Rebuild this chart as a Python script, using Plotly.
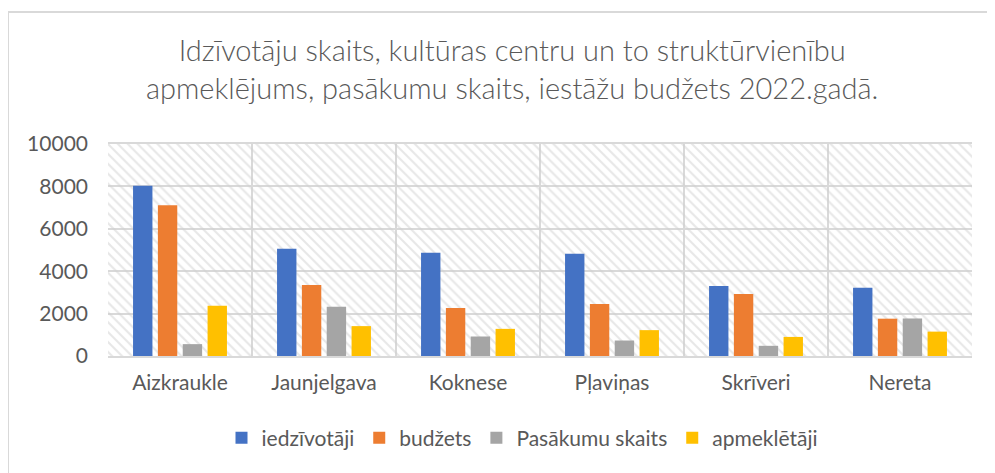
import plotly.graph_objects as go

# Data
categories = ["Aizkraukle", "Jaunjelgava", "Koknese", "Pļaviņas", "Skrīveri", "Nereta"]
iedzivotaji = [8030, 5060, 4870, 4820, 3300, 3220]
budzets = [7110, 3350, 2260, 2450, 2920, 1760]
pasakumi = [560, 2320, 920, 730, 480, 1770]
apmekletaji = [2370, 1410, 1280, 1220, 900, 1150]

y_ticks = [0, 2000, 4000, 6000, 8000, 10000]
y_ticktext = ["0", "2000", "4000", "6000", "8000", "10000"]
Y_MAX = 10000

title_text = ("Idzīvotāju skaits, kultūras centru un to struktūrvienību<br>"
              "apmeklējums, pasākumu skaits, iestāžu budžets 2022.gadā.")

# Colours (Office palette)
C_BLUE = "#4472C4"
C_ORANGE = "#ED7D31"
C_GREY = "#A5A5A5"
C_YELLOW = "#FFC000"
C_GRID = "#D9D9D9"
C_HATCH = "#D0D0D0"
C_TEXT = "#595959"

FONT = "Lato, Open Sans, sans-serif"

# the page body has an 8px margin, so the figure is drawn 8px in from the corner
OFF = 8
W, H = 995 - 2 * OFF, 473 - OFF
L, R, T, B = 108 - OFF, 15, 144 - OFF, 117
PW, PH = W - L - R, H - T - B


def px_x(x):
    # screen pixel -> paper coordinate
    return (x - OFF - L) / PW


def px_y(y):
    return (H - B - (y - OFF)) / PH


fig = go.Figure()

# hatched plot background (one tile per category, on the base axis)
fig.add_trace(go.Bar(
    x=categories,
    y=[Y_MAX] * len(categories),
    width=1,
    marker=dict(
        color="rgba(0,0,0,0)",
        line=dict(width=0),
        pattern=dict(shape="\\", fgcolor=C_HATCH, size=7, solidity=0.3),
    ),
    showlegend=False,
    hoverinfo="skip",
))

series = [
    ("iedzīvotāji", iedzivotaji, C_BLUE),
    ("budžets", budzets, C_ORANGE),
    ("Pasākumu skaits", pasakumi, C_GREY),
    ("apmeklētāji", apmekletaji, C_YELLOW),
]
for name, vals, col in series:
    fig.add_trace(go.Bar(
        x=categories,
        y=vals,
        name=name,
        marker=dict(color=col, line=dict(width=0)),
        xaxis="x2",
    ))

fig.update_layout(
    width=W,
    height=H,
    margin=dict(l=L, r=R, t=T, b=B),
    paper_bgcolor="white",
    plot_bgcolor="white",
    barmode="group",
    bargap=0.31,
    bargroupgap=0.22,
    font=dict(family=FONT, color=C_TEXT),
    xaxis=dict(
        type="category",
        categoryorder="array",
        categoryarray=categories,
        range=[-0.5, len(categories) - 0.5],
        tickson="boundaries",
        showgrid=True,
        gridcolor=C_GRID,
        gridwidth=2,
        showline=True,
        mirror=True,
        linecolor=C_GRID,
        linewidth=2,
        ticks="",
        showticklabels=False,
        fixedrange=True,
    ),
    xaxis2=dict(
        type="category",
        categoryorder="array",
        categoryarray=categories,
        range=[-0.5, len(categories) - 0.5],
        overlaying="x",
        showgrid=False,
        showline=False,
        ticks="",
        tickfont=dict(size=21, color=C_TEXT, family=FONT),
        side="bottom",
        anchor="y",
        ticklabelstandoff=12,
    ),
    yaxis=dict(
        range=[0, Y_MAX],
        tickvals=y_ticks,
        ticktext=y_ticktext,
        showgrid=True,
        gridcolor=C_GRID,
        gridwidth=2,
        zeroline=False,
        ticks="",
        tickfont=dict(size=21, color=C_TEXT, family=FONT),
        ticklabelstandoff=19,
    ),
    legend=dict(
        orientation="h",
        x=px_x(522),
        y=px_y(438),
        xanchor="center",
        yanchor="middle",
        font=dict(size=21, color=C_TEXT, family=FONT),
        itemwidth=30,
        traceorder="normal",
    ),
    showlegend=True,
)

fig.add_annotation(
    text=title_text,
    xref="paper", yref="paper",
    x=px_x(512), y=px_y(69),
    xanchor="center", yanchor="middle",
    showarrow=False,
    font=dict(size=29, color=C_TEXT, family=FONT, weight=300),
)

# outer chart frame (only left and top edges are visible in the picture)
fig.add_shape(type="line", xref="paper", yref="paper",
              x0=px_x(8), x1=px_x(1020), y0=px_y(12), y1=px_y(12),
              line=dict(color=C_GRID, width=2))
fig.add_shape(type="line", xref="paper", yref="paper",
              x0=px_x(8), x1=px_x(8), y0=px_y(12), y1=px_y(500),
              line=dict(color=C_GRID, width=2))

fig.write_html("out.html")
